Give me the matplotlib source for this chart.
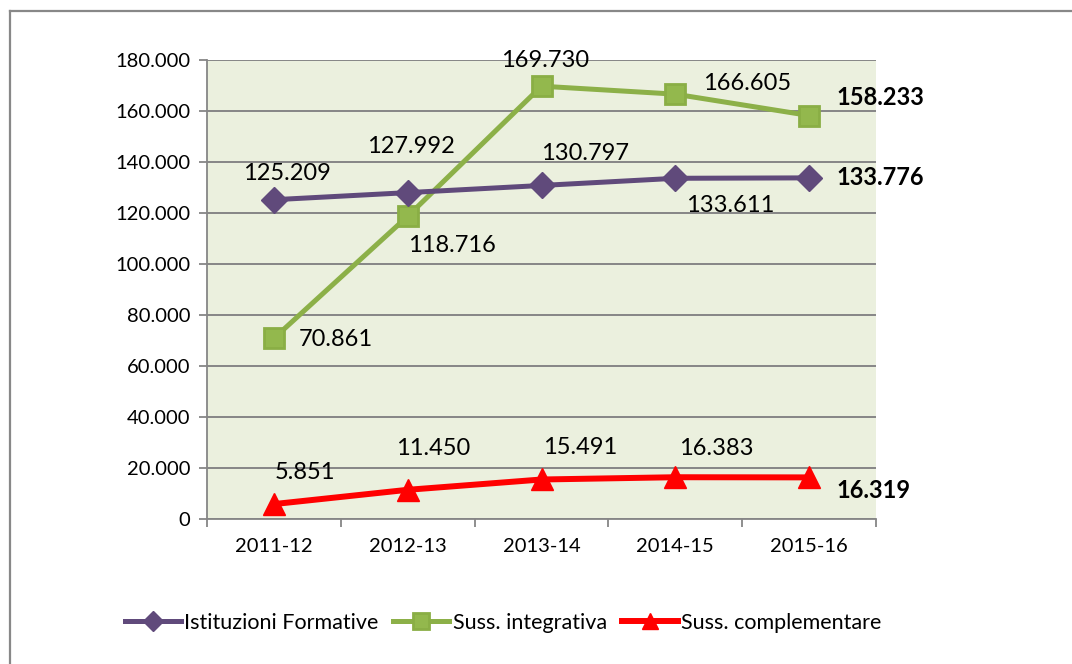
import matplotlib
matplotlib.use("Agg")
import matplotlib.pyplot as plt
from matplotlib.lines import Line2D

plt.rcParams['font.family'] = ['Lato', 'DejaVu Sans']

categories = ["2011-12", "2012-13", "2013-14", "2014-15", "2015-16"]
istituzioni = [125209, 127992, 130797, 133611, 133776]
integrativa = [70861, 118716, 169730, 166605, 158233]
complementare = [5851, 11450, 15491, 16383, 16319]
y_ticks = [0, 20000, 40000, 60000, 80000, 100000, 120000, 140000, 160000, 180000]

series_names = ["Istituzioni Formative", "Suss. integrativa", "Suss. complementare"]

# label offsets in pixels (dx, dy) and alignment
ist_off = [(13, 26, 'center'), (3, 46, 'center'), (44, 32, 'center'), (55, -27, 'center'), (27, 0, 'left')]
int_off = [(62, -1, 'center'), (44, -29, 'center'), (4, 26, 'center'), (72, 11, 'center'), (27, 18, 'left')]
com_off = [(31, 32, 'center'), (25, 41, 'center'), (39, 32, 'center'), (41, 29, 'center'), (27, -13, 'left')]

def fmt(v):
    return f"{v:,}".replace(",", ".")

W, H = 1072, 664
fig = plt.figure(figsize=(W / 100, H / 100), dpi=100)
ax = fig.add_axes([207 / W, (H - 519) / H, (876 - 207) / W, (519 - 60) / H])
ax.set_facecolor("#EBF0DE")

x = list(range(len(categories)))
purple = "#604A7B"
green = "#8CB048"
red = "#FF0000"

ax.plot(x, istituzioni, color=purple, lw=3.6, marker='D', ms=13, mfc=purple, mec=purple,
        solid_capstyle='round', zorder=5)
ax.plot(x, integrativa, color=green, lw=3.6, marker='s', ms=14, mfc="#93B84D", mec="#8AAE45",
        mew=2, solid_capstyle='round', zorder=4)
ax.plot(x, complementare, color=red, lw=4.3, marker='^', ms=16, mfc=red, mec=red,
        solid_capstyle='round', zorder=6)

fs_lab = 17
for vals, offs in [(istituzioni, ist_off), (integrativa, int_off), (complementare, com_off)]:
    for i, (v, (dx, dy, ha)) in enumerate(zip(vals, offs)):
        bold = (i == len(vals) - 1)
        ax.annotate(fmt(v), (i, v), xytext=(dx, dy), textcoords='offset pixels',
                    ha=ha, va='center', fontsize=fs_lab,
                    fontweight='bold' if bold else 'normal', color='black',
                    zorder=10, annotation_clip=False)

ax.set_xlim(-0.5, len(categories) - 0.5)
ax.set_ylim(0, 180000)
ax.set_yticks(y_ticks)
ax.set_yticklabels([fmt(t) for t in y_ticks], fontsize=14.5)
ax.set_xticks([i - 0.5 for i in range(len(categories) + 1)])
ax.set_xticklabels([])
ax.set_xticks(x, minor=True)
ax.set_xticklabels(categories, minor=True, fontsize=14.5)
ax.tick_params(axis='x', which='minor', length=0, pad=14)
ax.tick_params(axis='x', which='major', length=6, width=1.3, color="#868686")
ax.tick_params(axis='y', length=6, width=1.3, color="#868686", pad=6)
ax.yaxis.grid(True, color="#868686", lw=1.4)
ax.set_axisbelow(True)
for s in ['top', 'right']:
    ax.spines[s].set_visible(False)
for s in ['left', 'bottom']:
    ax.spines[s].set_color("#868686")
    ax.spines[s].set_linewidth(1.3)

handles = [
    Line2D([], [], color=purple, lw=3.6, marker='D', ms=10, mfc=purple, mec=purple),
    Line2D([], [], color=green, lw=3.6, marker='s', ms=11, mfc="#93B84D", mec="#8AAE45", mew=2),
    Line2D([], [], color=red, lw=4.3, marker='^', ms=12, mfc=red, mec=red),
]
fig.legend(handles, series_names, loc='center', bbox_to_anchor=(503 / W, (H - 623) / H),
           ncol=3, frameon=False, fontsize=15.5, handlelength=2.6, handletextpad=0.15,
           columnspacing=0.7)

# outer chart border (left and top visible)
fig.add_artist(Line2D([10 / W, 10 / W], [0, (H - 11) / H], color="#888888", lw=1.6,
                      transform=fig.transFigure))
fig.add_artist(Line2D([10 / W, 1], [(H - 11) / H, (H - 11) / H], color="#888888", lw=1.6,
                      transform=fig.transFigure))

fig.savefig("out.png", dpi=100, facecolor="white")
